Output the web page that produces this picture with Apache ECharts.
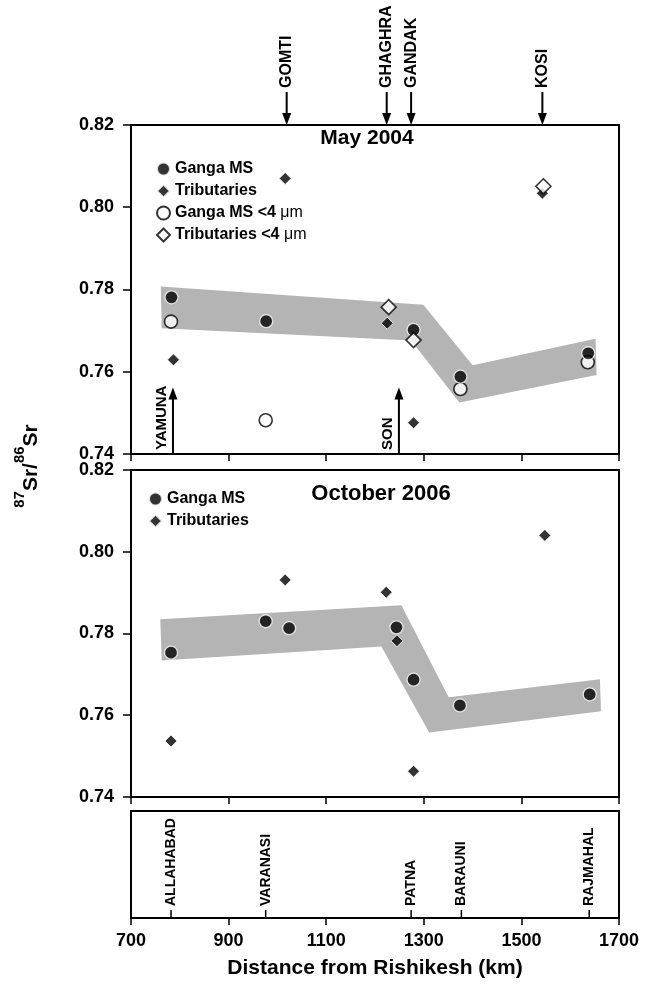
<!DOCTYPE html>
<html>
<head>
<meta charset="utf-8">
<script src="https://cdn.jsdelivr.net/npm/echarts@6/dist/echarts.min.js"></script>
<style>
html, body { margin: 0; padding: 0; background: #fff; }
#chart { width: 645px; height: 989px; }
</style>
</head>
<body>
<div id="chart"></div>
<script>
// distance from Rishikesh (km) on x, 87Sr/86Sr on y
var xTicks = [700, 900, 1100, 1300, 1500, 1700]
var yTicks = [0.74, 0.76, 0.78, 0.80, 0.82]

// May 2004
var mayGangaX = [783, 977, 1279, 1375, 1637]
var mayGangaY = [0.7781, 0.7723, 0.7702, 0.7588, 0.7645]
var mayGangaFineX = [782, 976, 1375, 1636]
var mayGangaFineY = [0.7722, 0.7482, 0.7558, 0.7623]
var mayTribX = [787, 1016, 1225, 1279, 1543]
var mayTribY = [0.7629, 0.8070, 0.7718, 0.7476, 0.8034]
var mayTribFineX = [1228, 1279, 1545]
var mayTribFineY = [0.7757, 0.7677, 0.8051]
var mayBandX = [761, 1299, 1400, 1652, 1654, 1373, 1274, 763]
var mayBandY = [0.7807, 0.7763, 0.7616, 0.7680, 0.7592, 0.7525, 0.7676, 0.7706]

// October 2006
var octGangaX = [782, 976, 1024, 1244, 1279, 1374, 1640]
var octGangaY = [0.7753, 0.7830, 0.7813, 0.7815, 0.7687, 0.7624, 0.7651]
var octTribX = [782, 1016, 1223, 1245, 1279, 1548]
var octTribY = [0.7537, 0.7931, 0.7901, 0.7782, 0.7463, 0.8040]
var octBandX = [760, 1254, 1351, 1661, 1663, 1311, 1213, 763]
var octBandY = [0.7835, 0.7869, 0.7644, 0.7688, 0.7610, 0.7558, 0.7768, 0.7734]

// tributary confluences
var topRivers = ['GOMTI', 'GHAGHRA', 'GANDAK', 'KOSI']
var topRiverX = [1019, 1224, 1274, 1543]
var lowRivers = ['YAMUNA', 'SON']
var lowRiverX = [786, 1249]
var lowRiverTip = 0.7562

// sampling towns
var towns = ['ALLAHABAD', 'VARANASI', 'PATNA', 'BARAUNI', 'RAJMAHAL']
var townX = [782, 976, 1274, 1377, 1639]

var FONT = '"Liberation Sans", Arial, Helvetica, sans-serif'
var INK = '#000'

function pairs(xs, ys) {
  return xs.map(function (x, i) { return [x, ys[i]] })
}

var filledCircle = { symbol: 'circle', symbolSize: 13, itemStyle: { color: INK, borderColor: '#fff', borderWidth: 1.3 } }
var openCircle = { symbol: 'circle', symbolSize: 13, itemStyle: { color: '#fff', borderColor: INK, borderWidth: 1.6 } }
var filledDiamond = { symbol: 'diamond', symbolSize: 12, itemStyle: { color: INK, borderColor: '#fff', borderWidth: 1 } }
var openDiamond = { symbol: 'diamond', symbolSize: 15, itemStyle: { color: '#fff', borderColor: INK, borderWidth: 1.6 } }

function scatter(name, xs, ys, look, idx) {
  return {
    name: name, type: 'scatter', xAxisIndex: idx, yAxisIndex: idx, z: 3,
    symbol: look.symbol, symbolSize: look.symbolSize, itemStyle: look.itemStyle,
    data: pairs(xs, ys), silent: true
  }
}

function band(xs, ys, idx) {
  return {
    type: 'custom', xAxisIndex: idx, yAxisIndex: idx, z: 1, silent: true, clip: false,
    data: [[xs[0], ys[0]]],
    renderItem: function (params, api) {
      var pts = xs.map(function (x, k) { return api.coord([x, ys[k]]) })
      return { type: 'polygon', shape: { points: pts }, style: { fill: '#b4b4b4' } }
    }
  }
}

var labelFont = function (size) {
  return { fill: INK, fontFamily: FONT, fontWeight: 'bold', fontSize: size, textAlign: 'left', textVerticalAlign: 'middle' }
}

var topArrows = {
  type: 'custom', xAxisIndex: 0, yAxisIndex: 0, z: 5, silent: true, clip: false,
  data: topRiverX.map(function (x) { return [x, 0.82] }),
  renderItem: function (params, api) {
    var p = api.coord([api.value(0), api.value(1)])
    var x = p[0], y = p[1]
    var st = labelFont(16)
    st.text = topRivers[params.dataIndex]
    return { type: 'group', children: [
      { type: 'line', shape: { x1: x, y1: y - 33, x2: x, y2: y - 10 }, style: { stroke: INK, lineWidth: 2 } },
      { type: 'polygon', shape: { points: [[x - 4.5, y - 12], [x + 4.5, y - 12], [x, y]] }, style: { fill: INK } },
      { type: 'text', x: x, y: y - 37, rotation: Math.PI / 2, style: st }
    ] }
  }
}

var lowArrows = {
  type: 'custom', xAxisIndex: 0, yAxisIndex: 0, z: 5, silent: true, clip: false,
  data: lowRiverX.map(function (x) { return [x, lowRiverTip] }),
  renderItem: function (params, api) {
    var tip = api.coord([api.value(0), api.value(1)])
    var base = api.coord([api.value(0), 0.74])
    var x = tip[0]
    var st = labelFont(15)
    st.text = lowRivers[params.dataIndex]
    return { type: 'group', children: [
      { type: 'line', shape: { x1: x, y1: base[1], x2: x, y2: tip[1] + 10 }, style: { stroke: INK, lineWidth: 2 } },
      { type: 'polygon', shape: { points: [[x - 4.5, tip[1] + 12], [x + 4.5, tip[1] + 12], [x, tip[1]]] }, style: { fill: INK } },
      { type: 'text', x: x - 11, y: base[1] - 4, rotation: Math.PI / 2, style: st }
    ] }
  }
}

var townMarks = {
  type: 'custom', xAxisIndex: 2, yAxisIndex: 2, z: 5, silent: true, clip: false,
  data: townX.map(function (x) { return [x, 0] }),
  renderItem: function (params, api) {
    var p = api.coord([api.value(0), api.value(1)])
    var st = labelFont(14)
    st.text = towns[params.dataIndex]
    return { type: 'group', children: [
      { type: 'line', shape: { x1: p[0], y1: p[1], x2: p[0], y2: p[1] - 8 }, style: { stroke: INK, lineWidth: 1.5 } },
      { type: 'text', x: p[0], y: p[1] - 12, rotation: Math.PI / 2, style: st }
    ] }
  }
}

function xAxis(idx, showLabels) {
  var ax = {
    type: 'value', gridIndex: idx, min: xTicks[0], max: xTicks[xTicks.length - 1], interval: 200,
    axisLine: { show: true, lineStyle: { color: INK, width: 2 } },
    axisTick: { show: true, inside: false, length: 7, lineStyle: { color: INK, width: 1.5 } },
    axisLabel: { show: showLabels, margin: 14, color: INK, fontFamily: FONT, fontWeight: 'bold', fontSize: 18,
      formatter: function (v) { return String(v) } },
    splitLine: { show: false }
  }
  if (showLabels) {
    ax.name = 'Distance from Rishikesh (km)'
    ax.nameLocation = 'middle'
    ax.nameGap = 40
    ax.nameTextStyle = { color: INK, fontFamily: FONT, fontWeight: 'bold', fontSize: 21 }
  }
  return ax
}

function yAxis(idx) {
  return {
    type: 'value', gridIndex: idx, min: yTicks[0], max: yTicks[yTicks.length - 1], interval: 0.02,
    axisLine: { show: true, lineStyle: { color: INK, width: 2 } },
    axisTick: { show: true, inside: false, length: 8, lineStyle: { color: INK, width: 1.5 } },
    axisLabel: { margin: 17, color: INK, fontFamily: FONT, fontWeight: 'bold', fontSize: 18,
      formatter: function (v) { return v.toFixed(2) } },
    splitLine: { show: false }
  }
}

var legendText = {
  color: INK, fontFamily: FONT, fontWeight: 'bold', fontSize: 16,
  rich: { u: { color: INK, fontFamily: FONT, fontWeight: 'normal', fontSize: 16 } }
}

var myChart = echarts.init(document.getElementById('chart'))
var option = {
  animation: false,
  backgroundColor: '#fff',
  grid: [
    { left: 131, width: 488, top: 125, height: 329, show: true, borderColor: INK, borderWidth: 2 },
    { left: 131, width: 488, top: 470, height: 327, show: true, borderColor: INK, borderWidth: 2 },
    { left: 131, width: 488, top: 811, height: 107, show: true, borderColor: INK, borderWidth: 2 }
  ],
  xAxis: [xAxis(0, false), xAxis(1, false), xAxis(2, true)],
  yAxis: [yAxis(0), yAxis(1), {
    type: 'value', gridIndex: 2, min: 0, max: 1, show: false
  }],
  legend: [
    {
      data: ['Ganga MS', 'Tributaries', 'Ganga MS <4 μm', 'Tributaries <4 μm'],
      orient: 'vertical', left: 151, top: 156, itemWidth: 13, itemHeight: 13, itemGap: 6,
      textStyle: legendText, selectedMode: false,
      formatter: function (n) { return n.replace('μm', '{u|μm}') }
    },
    {
      data: ['Ganga MS', 'Tributaries'],
      orient: 'vertical', left: 143, top: 486, itemWidth: 13, itemHeight: 13, itemGap: 6,
      textStyle: legendText, selectedMode: false
    }
  ],
  graphic: [
    { type: 'text', x: 367, y: 138, style: { text: 'May 2004', fill: INK, fontFamily: FONT, fontWeight: 'bold', fontSize: 21, textAlign: 'center', textVerticalAlign: 'middle' } },
    { type: 'text', x: 381, y: 494, style: { text: 'October 2006', fill: INK, fontFamily: FONT, fontWeight: 'bold', fontSize: 22, textAlign: 'center', textVerticalAlign: 'middle' } },
    { type: 'text', x: 27, y: 466, rotation: Math.PI / 2, style: {
      text: '{s|87}{b|Sr/}{s|86}{b|Sr}', textAlign: 'center', textVerticalAlign: 'middle',
      rich: {
        s: { fill: INK, fontFamily: FONT, fontWeight: 'bold', fontSize: 15, lineHeight: 15, verticalAlign: 'top' },
        b: { fill: INK, fontFamily: FONT, fontWeight: 'bold', fontSize: 21, lineHeight: 30, verticalAlign: 'bottom' }
      }
    } }
  ],
  series: [
    band(mayBandX, mayBandY, 0),
    scatter('Ganga MS <4 μm', mayGangaFineX, mayGangaFineY, openCircle, 0),
    scatter('Ganga MS', mayGangaX, mayGangaY, filledCircle, 0),
    scatter('Tributaries', mayTribX, mayTribY, filledDiamond, 0),
    scatter('Tributaries <4 μm', mayTribFineX, mayTribFineY, openDiamond, 0),
    topArrows,
    lowArrows,
    band(octBandX, octBandY, 1),
    scatter('Ganga MS', octGangaX, octGangaY, filledCircle, 1),
    scatter('Tributaries', octTribX, octTribY, filledDiamond, 1),
    townMarks
  ]
}
myChart.setOption(option)
</script>
</body>
</html>
